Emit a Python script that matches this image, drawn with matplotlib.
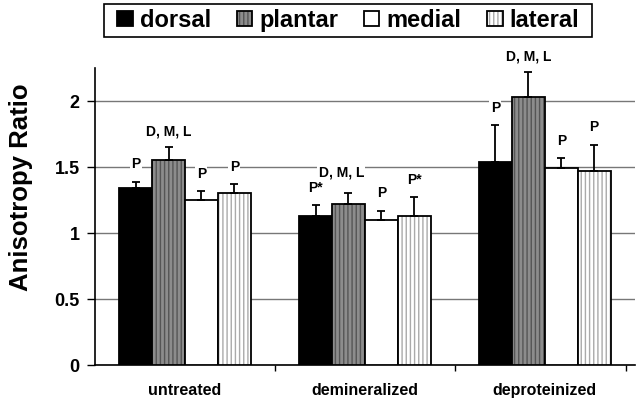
import numpy as np
import matplotlib
matplotlib.use('Agg')
import matplotlib.pyplot as plt
from matplotlib.patches import Rectangle

plt.rcParams['font.family'] = ['Liberation Sans', 'DejaVu Sans']
plt.rcParams['font.weight'] = 'bold'
plt.rcParams['hatch.linewidth'] = 1.0

# data
groups = ['untreated', 'demineralized', 'deproteinized']
series = ['dorsal', 'plantar', 'medial', 'lateral']
dorsal = [1.34, 1.13, 1.54]
plantar = [1.55, 1.22, 2.03]
medial = [1.25, 1.10, 1.49]
lateral = [1.30, 1.13, 1.47]
dorsal_err = [0.05, 0.08, 0.28]
plantar_err = [0.10, 0.08, 0.19]
medial_err = [0.07, 0.07, 0.08]
lateral_err = [0.07, 0.14, 0.20]
labels_dorsal = ['P', 'P*', 'P']
labels_plantar = ['D, M, L', 'D, M, L', 'D, M, L']
labels_medial = ['P', 'P', 'P']
labels_lateral = ['P', 'P*', 'P']

values = [dorsal, plantar, medial, lateral]
errors = [dorsal_err, plantar_err, medial_err, lateral_err]
notes = [labels_dorsal, labels_plantar, labels_medial, labels_lateral]
faces = ['black', '#8c8c8c', 'white', 'white']
hatches = [None, '||||', None, '||||']
hcolors = ['black', '#555555', 'black', '#aaaaaa']

fig = plt.figure(figsize=(6.38, 4.0), dpi=100)
ax = fig.add_axes([0.149, 0.0875, 0.846, 0.7425])

x = np.arange(len(groups))
w = 0.183
for i in range(4):
    pos = x + (i - 1.5) * w
    bars = ax.bar(pos, values[i], w, color=faces[i], edgecolor='black',
                  linewidth=1.3, hatch=hatches[i], label=series[i], zorder=3)
    for b in bars:
        b._hatch_color = matplotlib.colors.to_rgba(hcolors[i])
    ax.errorbar(pos, values[i], yerr=[np.zeros(3), errors[i]], fmt='none',
                ecolor='black', elinewidth=1.3, capsize=3, capthick=1.3, zorder=4)
    for j in range(3):
        top = values[i][j] + errors[i][j]
        if i == 1 and j == 1:
            xt, yt = pos[j] - 0.04, 1.46
        elif i == 1:
            xt, yt = pos[j], top + 0.12
        else:
            xt, yt = pos[j], top + 0.13
        ax.text(xt, yt, notes[i][j], ha='center', va='center', fontsize=10,
                fontweight='bold', zorder=5, clip_on=False,
                bbox=dict(facecolor='white', edgecolor='none', pad=1))

ax.set_ylim(0, 2.25)
ax.set_xlim(-0.5, 2.5)
ax.set_yticks([0, 0.5, 1, 1.5, 2])
ax.set_yticklabels(['0', '0.5', '1', '1.5', '2'], fontsize=13, fontweight='bold')
ax.yaxis.grid(True, color='#777777', linewidth=1.0, zorder=0)
ax.set_axisbelow(True)
ax.set_xticks([0.5, 1.5, 2.45])
ax.set_xticklabels(['', '', ''])
ax.tick_params(axis='x', length=4, width=1, direction='out')
ax.tick_params(axis='y', length=6, width=1, pad=5)
for j, g in enumerate(groups):
    ax.text(x[j], -0.19, g, ha='center', va='center', fontsize=11.5,
            fontweight='bold')
ax.spines['top'].set_visible(False)
ax.spines['right'].set_visible(False)
ax.spines['left'].set_linewidth(1.2)
ax.spines['bottom'].set_linewidth(1.2)
ax.set_ylabel('Anisotropy Ratio', fontsize=18.5, fontweight='bold')
ax.yaxis.set_label_coords(-0.115, 0.60)

# legend without frame, box drawn around it with wider side padding
leg = fig.legend(loc='center', bbox_to_anchor=(0.546, 0.949), ncol=4,
                 frameon=False, prop={'size': 17, 'weight': 'bold'},
                 handlelength=0.65, handleheight=0.65, handletextpad=0.3,
                 columnspacing=1.1, borderpad=0.0)
fig.canvas.draw()
bb = leg.get_window_extent().transformed(fig.transFigure.inverted())
px, py = 13 / 638, 5 / 400
fig.patches.append(Rectangle((bb.x0 - px, bb.y0 - py), bb.width + 2 * px,
                             bb.height + 2 * py, transform=fig.transFigure,
                             facecolor='none', edgecolor='black', linewidth=1.2))

fig.savefig('out.png', dpi=100)
